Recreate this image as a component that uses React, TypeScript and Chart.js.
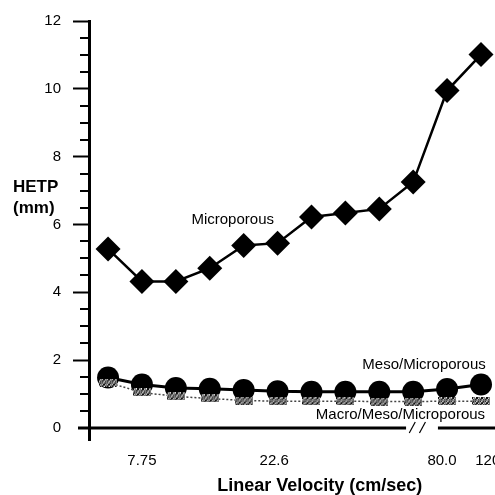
import React, { useEffect, useRef } from 'react';
import { Chart, registerables } from 'chart.js';

Chart.register(...registerables);

// ---- data ----
const pointIndex = [1, 2, 3, 4, 5, 6, 7, 8, 9, 10, 11, 12];
const microporous = [5.28, 4.32, 4.32, 4.71, 5.38, 5.45, 6.22, 6.34, 6.46, 7.25, 9.95, 11.01];
const mesoMicroporous = [1.49, 1.28, 1.18, 1.16, 1.12, 1.08, 1.07, 1.07, 1.07, 1.07, 1.15, 1.28];
const macroMesoMicroporous = [1.34, 1.05, 0.93, 0.87, 0.81, 0.79, 0.79, 0.79, 0.78, 0.78, 0.79, 0.79];
const xTickValues = [2, 5.9, 10.85, 12.2];
const xTickLabels = ['7.75', '22.6', '80.0', '120'];
const yMin = 0;
const yMax = 12;
const yMajorStep = 2;
const yMinorStep = 0.5;
const axisBreak = [9.79, 10.73];
const seriesLabels = ['Microporous', 'Meso/Microporous', 'Macro/Meso/Microporous'];
// annotation anchors in data space [x, y, align]
const labelAnchors: [number, number, CanvasTextAlign][] = [
  [3.46, 6.13, 'left'],
  [12.14, 1.87, 'right'],
  [12.12, 0.4, 'right'],
];

const FONT = '"Liberation Sans", Arial, Helvetica, sans-serif';

function makeSpeckle(): HTMLCanvasElement {
  const c = document.createElement('canvas');
  c.width = 18;
  c.height = 8;
  const g = c.getContext('2d')!;
  g.fillStyle = '#7a7a7a';
  g.fillRect(0, 0, 18, 8);
  for (let i = 0; i < 18; i++) {
    for (let j = 0; j < 8; j++) {
      const v = (i * 7 + j * 13 + i * j) % 5;
      if (v === 0 || v === 3) g.fillStyle = '#101010';
      else if (v === 1) g.fillStyle = '#f0f0f0';
      else continue;
      g.fillRect(i, j, 1, 1);
    }
  }
  return c;
}

const decorPlugin = {
  id: 'decor',
  afterDraw(chart: any) {
    const ctx = chart.ctx as CanvasRenderingContext2D;
    const xs = chart.scales.x;
    const ys = chart.scales.y;
    const area = chart.chartArea;
    const y0 = ys.getPixelForValue(0);
    const left = area.left + 0.5;
    ctx.save();
    ctx.strokeStyle = '#000';
    ctx.lineCap = 'butt';
    // minor y ticks
    ctx.lineWidth = 2;
    for (let v = yMin; v <= yMax + 1e-9; v += yMinorStep) {
      if (Math.abs(v / yMajorStep - Math.round(v / yMajorStep)) < 1e-6) continue;
      const py = Math.round(ys.getPixelForValue(v));
      ctx.beginPath();
      ctx.moveTo(area.left - 9, py);
      ctx.lineTo(area.left, py);
      ctx.stroke();
    }
    // y axis line
    ctx.lineWidth = 3;
    ctx.beginPath();
    ctx.moveTo(left, area.top - 1);
    ctx.lineTo(left, y0 + 13);
    ctx.stroke();
    // x axis line with break
    const bx1 = xs.getPixelForValue(axisBreak[0]);
    const bx2 = xs.getPixelForValue(axisBreak[1]);
    ctx.beginPath();
    ctx.moveTo(area.left - 11, y0);
    ctx.lineTo(bx1, y0);
    ctx.moveTo(bx2, y0);
    ctx.lineTo(area.right, y0);
    ctx.stroke();
    // break slashes
    ctx.lineWidth = 1.2;
    const w = bx2 - bx1;
    for (const f of [0.1, 0.42]) {
      const sx = bx1 + w * f;
      ctx.beginPath();
      ctx.moveTo(sx, y0 + 5);
      ctx.lineTo(sx + 6, y0 - 6);
      ctx.stroke();
    }
    // series labels
    ctx.fillStyle = '#000';
    ctx.font = `15px ${FONT}`;
    ctx.textBaseline = 'middle';
    labelAnchors.forEach(([vx, vy, al], i) => {
      ctx.textAlign = al;
      ctx.fillText(seriesLabels[i], xs.getPixelForValue(vx), ys.getPixelForValue(vy));
    });
    // y title
    ctx.font = `bold 17px ${FONT}`;
    ctx.textAlign = 'left';
    const ty = ys.getPixelForValue(7.1);
    ctx.fillText('HETP', 13, ty);
    ctx.fillText('(mm)', 13, ty + 21);
    ctx.restore();
  },
};

export default function App() {
  const ref = useRef<HTMLCanvasElement>(null);
  useEffect(() => {
    if (!ref.current) return;
    const speckle = makeSpeckle();
    const toXY = (vals: number[]) => pointIndex.map((x, i) => ({ x, y: vals[i] }));
    const chart = new Chart(ref.current, {
      type: 'line',
      data: {
        datasets: [
          {
            label: seriesLabels[2],
            data: toXY(macroMesoMicroporous),
            borderColor: '#444',
            borderWidth: 1.5,
            borderDash: [2, 2],
            pointStyle: speckle as any,
            pointRadius: 9,
            order: 0,
          },
          {
            label: seriesLabels[1],
            data: toXY(mesoMicroporous),
            borderColor: '#000',
            backgroundColor: '#000',
            borderWidth: 3,
            pointStyle: 'circle',
            pointRadius: 11,
            pointBorderWidth: 0,
            order: 1,
          },
          {
            label: seriesLabels[0],
            data: toXY(microporous),
            borderColor: '#000',
            backgroundColor: '#000',
            borderWidth: 2.5,
            pointStyle: 'rectRot',
            pointRadius: 12.5,
            pointBorderWidth: 0,
            order: 2,
          },
        ],
      },
      options: {
        animation: false,
        responsive: false,
        devicePixelRatio: 1,
        layout: { padding: { top: 20, left: 0, right: 0, bottom: 0 } },
        plugins: { legend: { display: false }, tooltip: { enabled: false } },
        scales: {
          x: {
            type: 'linear',
            min: 0.438,
            max: 14.05,
            afterFit: (s: any) => {
              s.height = 67;
            },
            afterBuildTicks: (s: any) => {
              s.ticks = xTickValues.map((v) => ({ value: v }));
            },
            ticks: {
              autoSkip: false,
              maxRotation: 0,
              color: '#000',
              padding: 24,
              font: { family: FONT, size: 15 },
              callback: (v: any) => {
                const i = xTickValues.indexOf(Number(v));
                return i >= 0 ? xTickLabels[i] : '';
              },
            },
            grid: { display: false, drawTicks: false },
            border: { display: false },
            title: {
              display: true,
              text: 'Linear Velocity (cm/sec)',
              color: '#000',
              font: { family: FONT, size: 18, weight: 'bold', lineHeight: 1 },
              padding: { top: 0, bottom: 0 },
            },
          },
          y: {
            min: yMin,
            max: yMax,
            afterFit: (s: any) => {
              s.width = 89;
            },
            ticks: {
              stepSize: yMajorStep,
              color: '#000',
              padding: 12,
              font: { family: FONT, size: 15 },
            },
            grid: {
              drawOnChartArea: false,
              drawTicks: true,
              tickLength: 16,
              tickWidth: 2,
              tickColor: (c: any) => (c.tick && c.tick.value === 0 ? 'rgba(0,0,0,0)' : '#000'),
            },
            border: { display: false },
          },
        },
      },
      plugins: [decorPlugin],
    });
    return () => chart.destroy();
  }, []);
  return (
    <div style={{ position: 'fixed', left: 0, top: 0, width: 495, height: 495, overflow: 'hidden', background: '#fff' }}>
      <canvas ref={ref} width={563} height={495} style={{ display: 'block', width: 563, height: 495 }} />
    </div>
  );
}
